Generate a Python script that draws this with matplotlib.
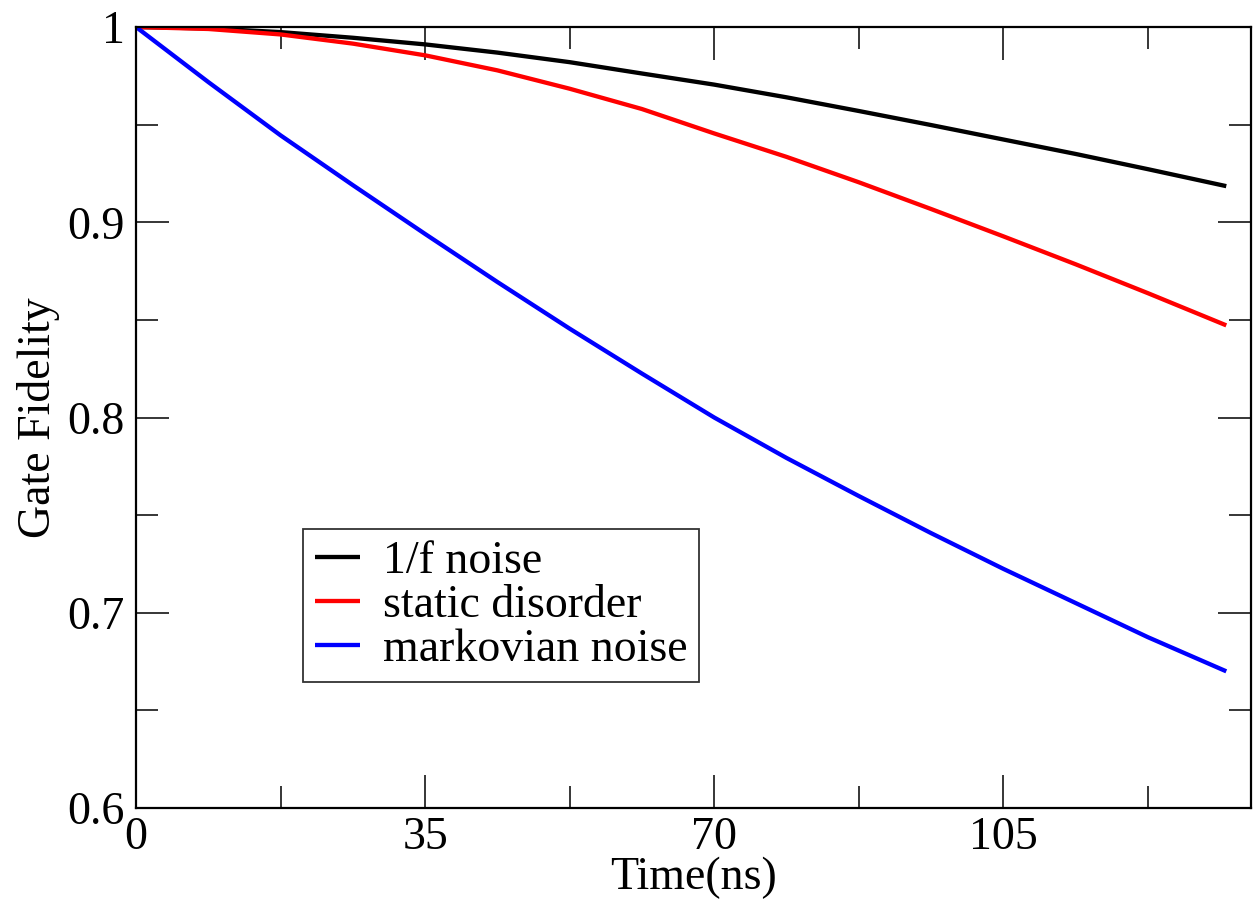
"""
Gate fidelity versus gate time for three noise models.
"""

import numpy as np
import matplotlib.pyplot as plt

time_ns = [0, 8.75, 17.5, 26.25, 35, 43.75, 52.5, 61.25, 70, 78.75,
           87.5, 96.25, 105, 113.75, 122.5, 132]

fid_1f = [1.0, 0.9993, 0.9974, 0.9945, 0.9911, 0.9869, 0.9820, 0.9762, 0.9705, 0.9640,
          0.9570, 0.9498, 0.9424, 0.9350, 0.9272, 0.9185]
fid_static = [1.0, 0.9990, 0.9962, 0.9915, 0.9855, 0.9778, 0.9684, 0.9580, 0.9455, 0.9335,
              0.9205, 0.9068, 0.8928, 0.8785, 0.8637, 0.8472]
fid_markov = [1.0, 0.9718, 0.9445, 0.9190, 0.8940, 0.8694, 0.8455, 0.8225, 0.8000, 0.7793,
              0.7598, 0.7408, 0.7225, 0.7050, 0.6875, 0.6700]

labels = ['1/f noise', 'static disorder', 'markovian noise']
colors = ['black', 'red', 'blue']

plt.rcParams['font.family'] = ['Liberation Serif', 'DejaVu Serif']

fig = plt.figure(figsize=(12.6, 9.1), dpi=100)
ax = fig.add_axes([0.108, 0.1121, 0.8849, 0.8582])

for y, lab, c in zip([fid_1f, fid_static, fid_markov], labels, colors):
    ax.plot(time_ns, y, color=c, lw=3.1, label=lab, solid_capstyle='butt',
            solid_joinstyle='round')

ax.set_xlim(0, 135)
ax.set_ylim(0.6, 1.0)
ax.set_xticks([0, 35, 70, 105])
ax.set_xticks(np.arange(0, 135, 17.5), minor=True)
ax.set_yticks([0.6, 0.7, 0.8, 0.9, 1.0])
ax.set_yticklabels(['0.6', '0.7', '0.8', '0.9', '1'])
ax.set_yticks(np.arange(0.6, 1.0, 0.05), minor=True)

ax.tick_params(which='both', direction='in', top=True, right=True,
               labelsize=33, width=1.1)
ax.tick_params(which='major', length=24, pad=8)
ax.tick_params(which='minor', length=16)
ax.tick_params(axis='x', which='major', pad=6)
for s in ax.spines.values():
    s.set_linewidth(1.6)

ax.set_xlabel('Time(ns)', fontsize=33)
ax.set_ylabel('Gate Fidelity', fontsize=33)
ax.xaxis.set_label_coords(0.5, -0.062)
ax.yaxis.set_label_coords(-0.068, 0.5)

leg = ax.legend(loc='upper left', bbox_to_anchor=(0.1498, 0.357), fontsize=33,
                frameon=True, fancybox=False, handlelength=1.0, handletextpad=0.5,
                borderpad=0.25, labelspacing=0.03, borderaxespad=0)
leg.get_frame().set_edgecolor('black')
leg.get_frame().set_linewidth(1.3)

plt.savefig('out.png', dpi=100)
